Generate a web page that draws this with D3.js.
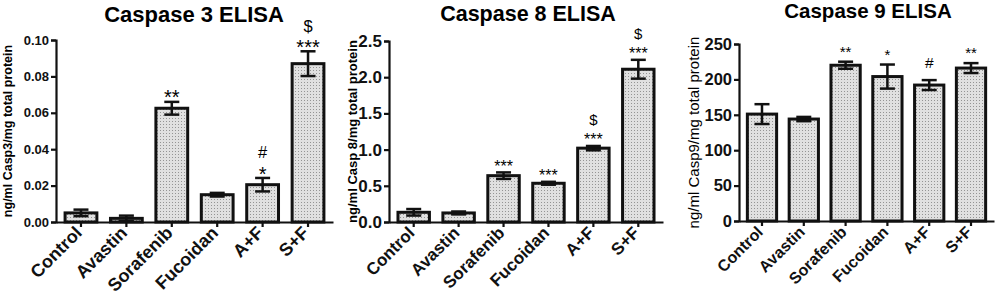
<!DOCTYPE html>
<html>
<head>
<meta charset="utf-8">
<script src="https://cdn.jsdelivr.net/npm/d3@7"></script>
<style>
  body { margin: 0; background: #fff; }
  svg { display: block; font-family: Arial, "Liberation Sans", sans-serif; }
</style>
</head>
<body>
<svg id="chart" width="996" height="296"></svg>
<script>
// groups shared by all three panels
var groups = ["Control", "Avastin", "Sorafenib", "Fucoidan", "A+F", "S+F"];

// caspase 3 (ng/ml per mg protein)
var casp3 = [0.005, 0.002, 0.0625, 0.015, 0.0205, 0.087];
var casp3Err = [0.0018, 0.0015, 0.0035, 0.001, 0.0037, 0.0068];
var casp3Sig = ["", "", "**", "", "*", "***"];
var casp3Sig2 = ["", "", "", "", "#", "$"];
var casp3Ticks = [0, 0.02, 0.04, 0.06, 0.08, 0.10];

// caspase 8
var casp8 = [0.134, 0.125, 0.64, 0.535, 1.02, 2.11];
var casp8Err = [0.045, 0.02, 0.045, 0.02, 0.03, 0.13];
var casp8Sig = ["", "", "***", "***", "***", "***"];
var casp8Sig2 = ["", "", "", "", "$", "$"];
var casp8Ticks = [0, 0.5, 1.0, 1.5, 2.0, 2.5];

// caspase 9
var casp9 = [151, 144, 220, 204, 192, 216];
var casp9Err = [14, 3, 5, 17, 7, 7];
var casp9Sig = ["", "", "**", "*", "#", "**"];
var casp9Sig2 = ["", "", "", "", "", ""];
var casp9Ticks = [0, 50, 100, 150, 200, 250];

var svg = d3.select("#chart");

// dotted grey fill like the original
var pat = svg.append("defs").append("pattern")
    .attr("id", "dots")
    .attr("patternUnits", "userSpaceOnUse")
    .attr("width", 3).attr("height", 3);
pat.append("rect").attr("width", 3).attr("height", 3).attr("fill", "#e0e0e0");
pat.append("rect").attr("x", 1).attr("y", 1).attr("width", 1).attr("height", 1).attr("fill", "#949494");

var panels = [
    { title: "Caspase 3 ELISA", titleX: 194, titleY: 22, titleSize: 22,
      vals: casp3, err: casp3Err, sig: casp3Sig, sig2: casp3Sig2, ticks: casp3Ticks, fmt: d3.format(".2f"),
      x0: 56, x1: 333, y0: 222, y1: 40, tickSize: 13, xlabSize: 18,
      ylab: "ng/ml Casp3/mg total protein", ylabX: 12, ylabSize: 12.5, ylabWeight: "bold",
      starSize: 20, symSize: 16.5, starDy: 2.6, symDy: -12, sym2Dy: -19.5 },
    { title: "Caspase 8 ELISA", titleX: 528, titleY: 21, titleSize: 21.5,
      vals: casp8, err: casp8Err, sig: casp8Sig, sig2: casp8Sig2, ticks: casp8Ticks, fmt: d3.format(".1f"),
      x0: 389, x1: 663, y0: 222, y1: 41, tickSize: 17, xlabSize: 17,
      ylab: "ng/ml Casp 8/mg total protein", ylabX: 357, ylabSize: 13, ylabWeight: "bold",
      starSize: 16, symSize: 15, starDy: -0.5, symDy: -12, sym2Dy: -21 },
    { title: "Caspase 9 ELISA", titleX: 868, titleY: 18, titleSize: 20.5,
      vals: casp9, err: casp9Err, sig: casp9Sig, sig2: casp9Sig2, ticks: casp9Ticks, fmt: d3.format("d"),
      x0: 739, x1: 994, y0: 221, y1: 44, tickSize: 16.5, xlabSize: 16,
      ylab: "ng/ml Casp9/mg total protein", ylabX: 699, ylabSize: 15, ylabWeight: "normal",
      starSize: 15, symSize: 15.5, starDy: -5, symDy: -12, sym2Dy: -20 }
];

panels.forEach(function(p) {
    var g = svg.append("g");

    var x = d3.scaleBand()
        .domain(groups)
        .range([p.x0, p.x1])
        .paddingInner(0.3)
        .paddingOuter(0.2);

    var y = d3.scaleLinear()
        .domain([0, p.ticks[p.ticks.length - 1]])
        .range([p.y0, p.y1]);

    // title
    g.append("text")
        .attr("x", p.titleX).attr("y", p.titleY)
        .attr("text-anchor", "middle")
        .attr("font-weight", "bold")
        .style("font-size", p.titleSize + "px")
        .text(p.title);

    // y label
    g.append("text")
        .attr("transform", "translate(" + p.ylabX + "," + ((p.y0 + p.y1) / 2) + ") rotate(-90)")
        .attr("text-anchor", "middle")
        .attr("font-weight", p.ylabWeight)
        .style("font-size", p.ylabSize + "px")
        .text(p.ylab);

    var data = groups.map(function(k, i) {
        return { key: k, v: p.vals[i], e: p.err[i], s: p.sig[i], s2: p.sig2[i] };
    });
    var cx = function(d) { return x(d.key) + x.bandwidth() / 2; };
    var top = function(d) { return y(d.v + d.e); };

    // bars
    g.selectAll(".bar")
        .data(data)
        .enter().append("rect")
        .attr("class", "bar")
        .attr("x", function(d) { return x(d.key); })
        .attr("y", function(d) { return y(d.v); })
        .attr("width", x.bandwidth())
        .attr("height", function(d) { return y(0) - y(d.v); })
        .attr("fill", "url(#dots)")
        .attr("stroke", "#111")
        .attr("stroke-width", 3);

    // error bars
    var eb = g.selectAll(".err")
        .data(data)
        .enter().append("g")
        .attr("class", "err")
        .attr("stroke", "#111")
        .attr("stroke-width", 2.5);
    eb.append("line")
        .attr("x1", cx).attr("x2", cx)
        .attr("y1", top)
        .attr("y2", function(d) { return y(d.v - d.e); });
    eb.append("line")
        .attr("x1", function(d) { return cx(d) - 7.5; })
        .attr("x2", function(d) { return cx(d) + 7.5; })
        .attr("y1", top).attr("y2", top);
    eb.append("line")
        .attr("x1", function(d) { return cx(d) - 7.5; })
        .attr("x2", function(d) { return cx(d) + 7.5; })
        .attr("y1", function(d) { return y(d.v - d.e); })
        .attr("y2", function(d) { return y(d.v - d.e); });

    // significance marks: one text per bar, second symbol stacked above as a tspan
    var isStar = function(s) { return s[0] === "*"; };
    var sig = g.selectAll(".sig")
        .data(data.filter(function(d) { return d.s; }))
        .enter().append("text")
        .attr("class", "sig")
        .attr("text-anchor", "middle");
    sig.filter(function(d) { return d.s2; })
        .append("tspan")
        .attr("x", cx)
        .attr("y", function(d) { return top(d) + p.sym2Dy; })
        .style("font-size", p.symSize + "px")
        .text(function(d) { return d.s2; });
    sig.append("tspan")
        .attr("x", cx)
        .attr("y", function(d) { return top(d) + (isStar(d.s) ? p.starDy : p.symDy); })
        .style("font-size", function(d) { return (isStar(d.s) ? p.starSize : p.symSize) + "px"; })
        .text(function(d) { return d.s; });

    // axes
    var yAxis = g.append("g")
        .attr("transform", "translate(" + p.x0 + ",0)")
        .call(d3.axisLeft(y).tickValues(p.ticks).tickFormat(p.fmt).tickSize(5).tickPadding(2));
    yAxis.selectAll("text")
        .attr("font-weight", "bold")
        .attr("fill", "#111")
        .style("font-size", p.tickSize + "px");

    var xAxis = g.append("g")
        .attr("transform", "translate(0," + p.y0 + ")")
        .call(d3.axisBottom(x).tickSize(5).tickSizeOuter(0));
    xAxis.selectAll("text")
        .attr("font-weight", "bold")
        .attr("fill", "#111")
        .attr("text-anchor", "end")
        .attr("dy", null)
        .attr("y", 0)
        .attr("transform", "translate(2,12) rotate(-45)")
        .style("font-size", p.xlabSize + "px");

    g.selectAll(".domain, .tick line")
        .attr("stroke", "#111")
        .attr("stroke-width", 2.2);
});
svg.selectAll("g").attr("font-family", null);
</script>
</body>
</html>
